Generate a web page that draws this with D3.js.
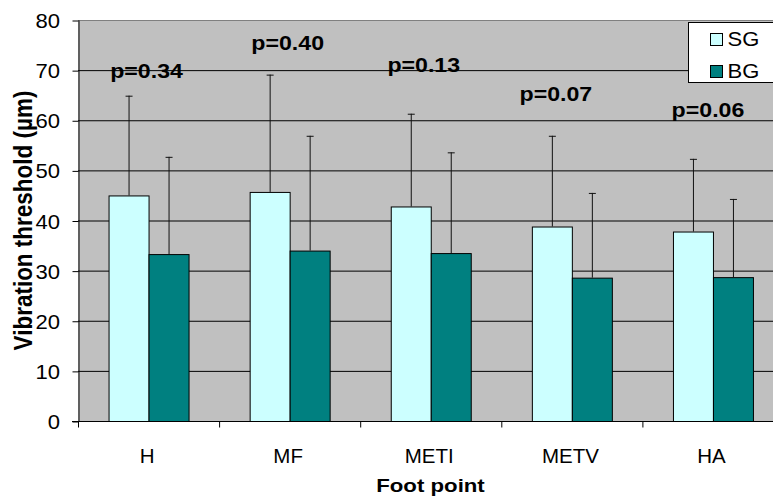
<!DOCTYPE html>
<html>
<head>
<meta charset="utf-8">
<script src="https://cdn.jsdelivr.net/npm/d3@7"></script>
<style>
  body { margin: 0; background: #fff; }
  text { font-family: "Liberation Sans", Arial, sans-serif; }
</style>
</head>
<body>
<div id="chart"></div>
<script>
// data
const categories = ['H', 'MF', 'METI', 'METV', 'HA']
const groups = ['SG', 'BG']
const sgMean = [45.0, 45.7, 42.8, 38.8, 37.8]
const bgMean = [33.3, 34.0, 33.5, 28.6, 28.7]
const sgSD = [19.9, 23.4, 18.5, 18.1, 14.5]
const bgSD = [19.4, 22.9, 20.1, 16.9, 15.6]
const pTexts = ['p=0.34', 'p=0.40', 'p=0.13', 'p=0.07', 'p=0.06']
const pLevel = [68.4, 74.0, 69.7, 63.9, 60.7]
const yTicks = [0, 10, 20, 30, 40, 50, 60, 70, 80]

const W = 773, H = 496
const plotLeft = 78, plotTop = 20, plotBottom = 421
const colors = { SG: '#ccffff', BG: '#008080' }
// the bold labels in the picture are drawn wider than normal
const boldStretch = 1.17
const tickStretch = 1.05
const pNudge = [-2, -2, -7, -16, -5]

const svg = d3.select('#chart')
  .append('svg')
  .attr('width', W)
  .attr('height', H)

const y = d3.scaleLinear().domain([0, 80]).range([plotBottom, plotTop])

// plot runs past the right edge of the picture
const x = d3.scaleBand()
  .domain(categories)
  .range([plotLeft, 783.5])

const xs = d3.scaleBand()
  .domain(groups)
  .range([0, x.bandwidth()])
  .paddingOuter(0.764)

const rows = categories.map((c, i) => ({
  cat: c,
  vals: [
    { g: 'SG', mean: sgMean[i], sd: sgSD[i] },
    { g: 'BG', mean: bgMean[i], sd: bgSD[i] }
  ]
}))

// plot background
svg.append('rect')
  .attr('x', plotLeft).attr('y', plotTop)
  .attr('width', W - plotLeft).attr('height', plotBottom - plotTop)
  .attr('fill', '#c0c0c0')

// grid lines
svg.append('g')
  .selectAll('line')
  .data(yTicks.filter(d => d > 0 && d < 80))
  .join('line')
  .attr('x1', plotLeft).attr('x2', W)
  .attr('y1', d => y(d) + 0.5).attr('y2', d => y(d) + 0.5)
  .attr('stroke', '#000')
  .attr('stroke-width', 1)

svg.append('line')
  .attr('x1', plotLeft).attr('x2', W)
  .attr('y1', y(80) + 0.5).attr('y2', y(80) + 0.5)
  .attr('stroke', '#808080')

// bars
const grp = svg.append('g')
  .selectAll('g')
  .data(rows)
  .join('g')
  .attr('transform', d => `translate(${x(d.cat)},0)`)

grp.selectAll('rect')
  .data(d => d.vals)
  .join('rect')
  .attr('x', d => xs(d.g) + 0.5)
  .attr('y', d => y(d.mean) + 0.5)
  .attr('width', xs.bandwidth())
  .attr('height', d => y(0) - y(d.mean))
  .attr('fill', d => colors[d.g])
  .attr('stroke', '#000')

// error bars (upper only)
const err = grp.selectAll('g.err')
  .data(d => d.vals)
  .join('g')
  .attr('class', 'err')
  .attr('stroke', '#111')

err.append('line')
  .attr('x1', d => xs(d.g) + xs.bandwidth() / 2 + 0.5)
  .attr('x2', d => xs(d.g) + xs.bandwidth() / 2 + 0.5)
  .attr('y1', d => y(d.mean))
  .attr('y2', d => y(d.mean + d.sd))

err.append('line')
  .attr('x1', d => xs(d.g) + xs.bandwidth() / 2 - 3)
  .attr('x2', d => xs(d.g) + xs.bandwidth() / 2 + 4)
  .attr('y1', d => y(d.mean + d.sd) + 0.5)
  .attr('y2', d => y(d.mean + d.sd) + 0.5)

// y axis
const yAxis = svg.append('g')
  .attr('transform', `translate(${plotLeft + 0.5},0)`)
  .call(d3.axisLeft(y).tickValues(yTicks).tickSize(6).tickSizeOuter(0))

yAxis.select('.domain').attr('stroke', '#000')
yAxis.selectAll('.tick line').attr('stroke', '#000').attr('transform', 'translate(0,0.5)')
yAxis.selectAll('.tick text')
  .attr('x', -18.5 / tickStretch)
  .attr('dy', '0.36em')
  .attr('transform', `scale(${tickStretch},1)`)
  .style('font-size', '21px')
  .attr('fill', '#000')

// x axis
const xAxis = svg.append('g')
  .attr('transform', `translate(0,${plotBottom + 0.5})`)
  .call(d3.axisBottom(x).tickSize(0).tickSizeOuter(0).tickPadding(0))

xAxis.select('.domain').attr('stroke', '#000')
  .attr('d', `M${plotLeft - 6},0H${W}`)
xAxis.selectAll('.tick text')
  .attr('y', 41)
  .attr('dy', 0)
  .attr('x', -1.5)
  .style('font-size', '20.5px')
  .attr('fill', '#000')

// ticks between categories
xAxis.append('g')
  .selectAll('line')
  .data(categories)
  .join('line')
  .attr('x1', d => x(d) + 0.5).attr('x2', d => x(d) + 0.5)
  .attr('y1', 0).attr('y2', 6)
  .attr('stroke', '#000')

// p values
svg.append('g')
  .selectAll('text')
  .data(categories)
  .join('text')
  .attr('transform', (d, i) => `translate(${x(d) + x.bandwidth() / 2 + pNudge[i]},${y(pLevel[i])}) scale(1.13,1)`)
  .attr('text-anchor', 'middle')
  .style('font-size', '20.5px')
  .style('font-weight', 'bold')
  .text((d, i) => pTexts[i])

// axis titles
svg.append('text')
  .attr('transform', `translate(430.5,491.5) scale(${boldStretch},1)`)
  .attr('text-anchor', 'middle')
  .style('font-size', '19px')
  .style('font-weight', 'bold')
  .text('Foot point')

svg.append('text')
  .attr('transform', `translate(31.5,220.5) rotate(-90) scale(1,${boldStretch})`)
  .attr('text-anchor', 'middle')
  .style('font-size', '22.5px')
  .style('font-weight', 'bold')
  .text('Vibration threshold (µm)')

// legend
const leg = svg.append('g').attr('transform', 'translate(688,22)')
leg.append('rect')
  .attr('x', 0.5).attr('y', 0.5)
  .attr('width', 90).attr('height', 60)
  .attr('fill', '#fff')
  .attr('stroke', '#000')

const li = leg.selectAll('g.item')
  .data(groups)
  .join('g')
  .attr('class', 'item')
  .attr('transform', (d, i) => `translate(22,${11 + i * 32})`)

li.append('rect')
  .attr('x', 0.5).attr('y', 0.5)
  .attr('width', 12).attr('height', 12)
  .attr('fill', d => colors[d])
  .attr('stroke', '#000')

li.append('text')
  .attr('transform', 'translate(17.5,12.5) scale(1.1,1)')
  .style('font-size', '20px')
  .text(d => d)
</script>
</body>
</html>
